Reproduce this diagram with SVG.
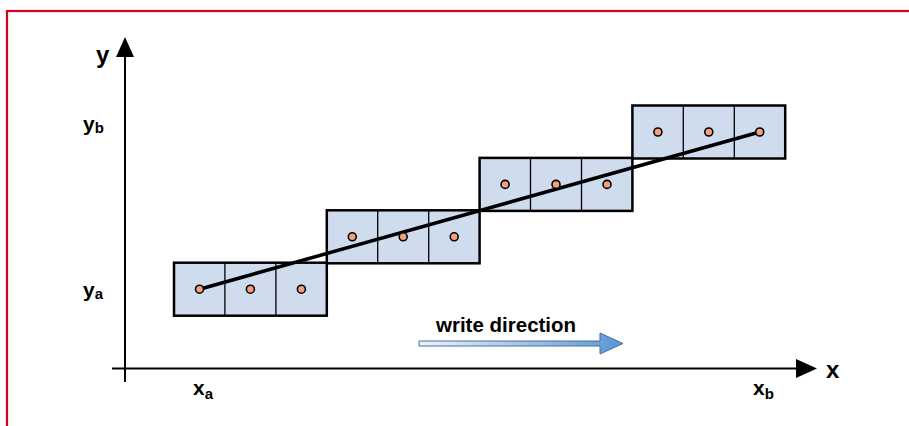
<svg xmlns="http://www.w3.org/2000/svg" width="909" height="426" viewBox="0 0 909 426">
<defs>
<linearGradient id="wg" x1="0" y1="0" x2="1" y2="0">
<stop offset="0" stop-color="#eef3fb"/>
<stop offset="1" stop-color="#5b95d5"/>
</linearGradient>
<style>
.box{fill:#cfdcee;stroke:#000;stroke-width:2.5}
.div{stroke:#000;stroke-width:1.3}
.dot{fill:#f4a07c;stroke:#000;stroke-width:1.6}
.lbl{font-family:"Liberation Sans",Arial,sans-serif;font-weight:bold;fill:#000}
.ax{stroke:#000;stroke-width:2;fill:none}
</style>
</defs>
<rect x="0" y="0" width="909" height="426" fill="#fff"/>
<rect x="7" y="11" width="912" height="430" fill="none" stroke="#d4021c" stroke-width="2.2"/>

<g id="axes">
<line class="ax" x1="125" y1="382" x2="125" y2="56"/>
<polygon points="116,57 134,57 125,37" fill="#000"/>
<line class="ax" x1="112" y1="368.5" x2="797" y2="368.5"/>
<polygon points="796,359 817,368.5 796,378" fill="#000"/>
</g>

<g id="group1">
<rect class="box" x="174" y="262.7" width="152.8" height="53"/>
<line class="div" x1="224.9" y1="262.7" x2="224.9" y2="315.7"/>
<line class="div" x1="275.9" y1="262.7" x2="275.9" y2="315.7"/>
</g>
<g id="group2">
<rect class="box" x="326.8" y="210.3" width="152.8" height="53"/>
<line class="div" x1="377.7" y1="210.3" x2="377.7" y2="263.3"/>
<line class="div" x1="428.7" y1="210.3" x2="428.7" y2="263.3"/>
</g>
<g id="group3">
<rect class="box" x="479.6" y="157.9" width="152.8" height="53"/>
<line class="div" x1="530.5" y1="157.9" x2="530.5" y2="210.9"/>
<line class="div" x1="581.5" y1="157.9" x2="581.5" y2="210.9"/>
</g>
<g id="group4">
<rect class="box" x="632.4" y="105.5" width="152.8" height="53"/>
<line class="div" x1="683.3" y1="105.5" x2="683.3" y2="158.5"/>
<line class="div" x1="734.3" y1="105.5" x2="734.3" y2="158.5"/>
</g>

<g id="connectors">
<line x1="199.5" y1="289.2" x2="759.7" y2="132" stroke="#000" stroke-width="3.5"/>
</g>

<g id="dots">
<circle class="dot" cx="199.5" cy="289.2" r="4"/>
<circle class="dot" cx="250.4" cy="289.2" r="4"/>
<circle class="dot" cx="301.4" cy="289.2" r="4"/>
<circle class="dot" cx="352.3" cy="236.8" r="4"/>
<circle class="dot" cx="403.2" cy="236.8" r="4"/>
<circle class="dot" cx="454.2" cy="236.8" r="4"/>
<circle class="dot" cx="505.1" cy="184.4" r="4"/>
<circle class="dot" cx="556" cy="184.4" r="4"/>
<circle class="dot" cx="607" cy="184.4" r="4"/>
<circle class="dot" cx="657.9" cy="132" r="4"/>
<circle class="dot" cx="708.8" cy="132" r="4"/>
<circle class="dot" cx="759.7" cy="132" r="4"/>
</g>

<g id="write-arrow">
<polygon points="419,341 600,341 600,333 623,343.5 600,354 600,346 419,346" fill="url(#wg)" stroke="#4a6f9a" stroke-width="1"/>
<text class="lbl" x="436" y="331.5" font-size="20.5">write direction</text>
</g>

<g id="labels">
<text class="lbl" x="96" y="63" font-size="24">y</text>
<text class="lbl" x="826" y="378" font-size="24">x</text>
<text class="lbl" x="83" y="131" font-size="21">y<tspan font-size="15" dy="2">b</tspan></text>
<text class="lbl" x="83" y="297" font-size="21">y<tspan font-size="15" dy="2">a</tspan></text>
<text class="lbl" x="193" y="395" font-size="21">x<tspan font-size="15" dy="4">a</tspan></text>
<text class="lbl" x="753" y="395" font-size="21">x<tspan font-size="15" dy="4">b</tspan></text>
</g>
</svg>
